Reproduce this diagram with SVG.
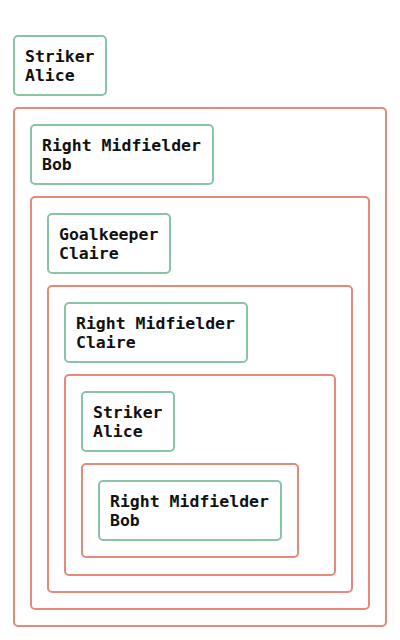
<svg xmlns="http://www.w3.org/2000/svg" width="400" height="640" viewBox="0 0 400 640">
<style>
.node rect{fill:#ffffff;stroke:#8ac4a6;stroke-width:2}
.group>rect{fill:none;stroke:#e6887a;stroke-width:2}
text{font-family:"DejaVu Sans Mono",monospace;font-weight:bold;font-size:16.5px;fill:#111111}
</style>
<rect width="400" height="640" fill="#ffffff"/>
<g id="connectors"></g>
<g id="group1" class="group"><rect x="14" y="108" width="372" height="518" rx="4"/></g>
<g id="group2" class="group"><rect x="31" y="197" width="338" height="412" rx="4"/></g>
<g id="group3" class="group"><rect x="48" y="286" width="304" height="306" rx="4"/></g>
<g id="group4" class="group"><rect x="65" y="375" width="270" height="200" rx="4"/></g>
<g id="group5" class="group"><rect x="82" y="464" width="216" height="93" rx="4"/></g>
<g id="node1" class="node"><rect x="14" y="36" width="92" height="59" rx="4"/><text x="25" y="62">Striker</text><text x="25" y="81">Alice</text></g>
<g id="node2" class="node"><rect x="31" y="125" width="182" height="59" rx="4"/><text x="42" y="151">Right Midfielder</text><text x="42" y="170">Bob</text></g>
<g id="node3" class="node"><rect x="48" y="214" width="122" height="59" rx="4"/><text x="59" y="240">Goalkeeper</text><text x="59" y="259">Claire</text></g>
<g id="node4" class="node"><rect x="65" y="303" width="182" height="59" rx="4"/><text x="76" y="329">Right Midfielder</text><text x="76" y="348">Claire</text></g>
<g id="node5" class="node"><rect x="82" y="392" width="92" height="59" rx="4"/><text x="93" y="418">Striker</text><text x="93" y="437">Alice</text></g>
<g id="node6" class="node"><rect x="99" y="481" width="182" height="59" rx="4"/><text x="110" y="507">Right Midfielder</text><text x="110" y="526">Bob</text></g>
</svg>
